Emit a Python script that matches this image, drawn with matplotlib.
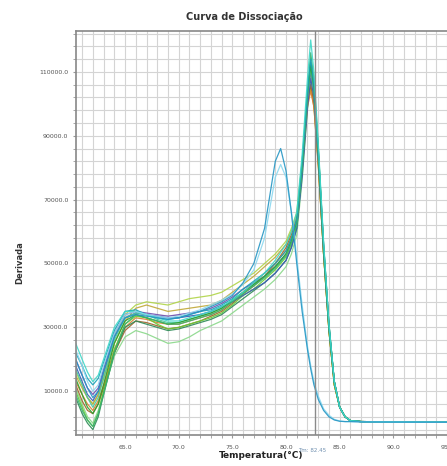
import matplotlib
matplotlib.use('Agg')
import matplotlib.pyplot as plt
from matplotlib.ticker import MultipleLocator, FormatStrFormatter
import numpy as np

# temperature points (C)
temps = [60.4, 61.0, 61.5, 62.0, 62.5, 63.0, 64.0, 65.0, 66.0, 67.0,
         68.0, 69.0, 70.0, 71.0, 72.0, 73.0, 74.0, 75.0, 76.0, 77.0,
         78.0, 79.0, 79.5, 80.0, 80.5, 81.0, 81.5, 82.0, 82.3, 82.6,
         83.0, 83.5, 84.0, 84.5, 85.0, 85.5, 86.0, 87.0, 90.0, 95.0]

# derivative per well, in thousands
well_A1 = [14, 9, 5, 3, 6, 12, 25, 32, 34, 33, 32, 31, 31.5, 32.5, 33.5, 34.5, 36, 38.5, 41, 43.5,
           46, 49, 51, 53, 57, 63, 80, 103, 112, 105, 85, 55, 30, 13, 5, 2, 0.8, 0.5, 0.4, 0.3]
well_A2 = [10, 5, 1, -1, 3, 10, 23, 31, 33.5, 33, 31, 29.5, 30, 31, 32, 33, 34.5, 37, 40, 42,
           45, 48, 50, 52, 56, 62, 79, 101, 110, 103, 83, 53, 29, 12, 5, 2, 0.8, 0.5, 0.4, 0.3]
well_A3 = [22, 18, 14, 12, 14, 19, 29, 35, 35.5, 34, 33, 32.5, 33, 34, 35, 35.5, 37, 39, 42, 44.5,
           47, 50, 52, 54, 58, 64, 82, 104, 114, 106, 86, 56, 31, 13, 5, 2, 0.8, 0.5, 0.4, 0.3]
well_A4 = [18, 13, 9, 7, 10, 16, 27, 33, 34.5, 34, 33.5, 33, 33, 33.5, 34, 35, 36.5, 38, 40, 42,
           44, 47, 49, 51, 55, 61, 77, 99, 108, 102, 83, 54, 30, 13, 5, 2, 0.8, 0.5, 0.4, 0.3]
well_A5 = [12, 7, 4, 3, 6, 11, 22, 29, 32, 31.5, 30.5, 29.5, 30, 31, 32, 33.5, 35, 37.5, 40.5, 43,
           46, 50, 52.5, 55, 59, 64, 80, 100, 106, 100, 82, 53, 29, 12, 5, 2, 0.8, 0.5, 0.4, 0.3]
well_A6 = [16, 12, 8, 6, 9, 15, 27, 34, 37, 38, 37.5, 37, 38, 39, 39.5, 40, 41, 43, 45, 47,
           50, 53, 55, 57, 61, 66, 82, 102, 108, 101, 82, 53, 29, 12, 5, 2, 0.8, 0.5, 0.4, 0.3]
well_A7 = [8, 3, 0, -2, 2, 9, 22, 30, 32, 31, 30, 29, 29.5, 30.5, 31.5, 32.5, 34, 36.5, 39, 41.5,
           44, 47, 49, 51, 55, 61, 79, 102, 113, 106, 86, 56, 31, 13, 5, 2, 0.8, 0.5, 0.4, 0.3]
well_A8 = [25, 20, 16, 13, 15, 20, 30, 35, 35, 34, 33, 32, 32, 33, 34, 35, 36.5, 38.5, 41, 44,
           47, 51, 53.5, 56, 60, 66, 84, 108, 120, 110, 88, 57, 31, 13, 5, 2, 0.8, 0.5, 0.4, 0.3]
well_A9 = [13, 9, 6, 4, 7, 12, 23, 30, 33, 32.5, 31.5, 31, 31, 32, 33, 34, 35.5, 38, 41, 44,
           47, 50, 52, 54, 58, 63, 79, 99, 104, 99, 81, 53, 29, 12, 5, 2, 0.8, 0.5, 0.4, 0.3]
well_A10 = [11, 6, 2, 0, 4, 10, 21, 27, 29, 28, 26.5, 25, 25.5, 27, 29, 30.5, 32, 34.5, 37, 39.5,
            42, 45, 47, 49, 53, 59, 76, 98, 107, 101, 83, 54, 30, 13, 5, 2, 0.8, 0.5, 0.4, 0.3]
well_A11 = [20, 15, 11, 9, 11, 17, 28, 34, 35, 34.5, 34, 33.5, 34, 34.5, 35, 36, 37.5, 39.5, 42, 44,
            46, 49, 51, 53, 57, 63, 80, 102, 110, 104, 85, 55, 30, 13, 5, 2, 0.8, 0.5, 0.4, 0.3]
well_A12 = [15, 11, 8, 6, 9, 14, 25, 32, 36, 37, 36, 35, 35.5, 36, 36.5, 37, 38.5, 41, 43.5, 46,
            49, 52, 54, 56, 60, 65, 81, 100, 105, 99, 81, 53, 29, 12, 5, 2, 0.8, 0.5, 0.4, 0.3]
well_A13 = [9, 4, 1, -1, 3, 9, 22, 31, 34, 33, 32, 31, 31, 32, 33, 34, 35.5, 38, 40.5, 43,
            45.5, 48.5, 50.5, 52.5, 56.5, 62, 80, 104, 116, 108, 87, 56, 31, 13, 5, 2, 0.8, 0.5, 0.4, 0.3]
well_A14 = [17, 12, 8, 5, 8, 14, 26, 33, 34.5, 34, 32.5, 31.5, 31.5, 32.5, 33.5, 34.5, 36, 38.5, 41, 43.5,
            46, 49, 51, 53, 57, 63, 80, 102, 111, 104, 85, 55, 30, 13, 5, 2, 0.8, 0.5, 0.4, 0.3]
# the two wells with the early peak
well_B1 = [20, 15, 11, 8, 10, 16, 27, 33, 34, 33.5, 33, 32.5, 33, 34, 35, 36.5, 38, 40, 44, 50,
           61, 82, 86, 79, 66, 50, 35, 23, 17, 12, 7.5, 4, 2, 1, 0.6, 0.5, 0.5, 0.4, 0.35, 0.3]
well_B2 = [23, 18, 13, 10, 12, 18, 28, 34, 35, 34, 33.5, 33, 33.5, 34.5, 35.5, 37, 38.5, 40.5, 43.5, 48,
           58, 77, 81, 77, 66, 52, 37, 24, 18, 13, 8.5, 4.5, 2.5, 1.2, 0.7, 0.5, 0.5, 0.4, 0.35, 0.3]

wells = [well_A10, well_A6, well_A12, well_A5, well_A9, well_A2, well_A7, well_A4,
         well_A11, well_A14, well_A1, well_A13, well_A3, well_A8, well_B2, well_B1]
colors = ['#8ad88a', '#b0d448', '#c0a838', '#a0642a', '#d88030', '#66cc33', '#2e8b57', '#3a5cb8',
          '#7050b0', '#48c9a0', '#2ca02c', '#3cb371', '#17a2b8', '#40d8c8', '#8cd8ef', '#2596c4']

tm_value = 82.7

fig = plt.figure(figsize=(4.47, 4.66), dpi=100)
ax = fig.add_axes([76 / 447., 31 / 466., 1.0 - 76 / 447., 404 / 466.])

for w, c in zip(wells, colors):
    ax.plot(temps, np.array(w) * 1000, color=c, linewidth=0.9, alpha=0.9)

ax.axvline(tm_value, color='#8a8a8a', linewidth=1.0)

ax.set_xlim(60.43, 95.0)
ax.set_ylim(-3700, 122800)

ax.xaxis.set_major_locator(MultipleLocator(5))
ax.xaxis.set_minor_locator(MultipleLocator(1))
ax.yaxis.set_major_locator(MultipleLocator(20000, offset=10000))
ax.yaxis.set_minor_locator(MultipleLocator(4000, offset=2000))
ax.xaxis.set_major_formatter(FormatStrFormatter('%.1f'))
ax.yaxis.set_major_formatter(FormatStrFormatter('%.1f'))
ax.grid(True, which='both', color='#d4d4d4', linewidth=0.8)
ax.set_axisbelow(True)
ax.tick_params(which='both', length=2, color='#999999', labelsize=4.5, labelcolor='#555555')
ax.tick_params(axis='x', pad=5)

for s in ['left', 'bottom', 'top']:
    ax.spines[s].set_color('#888888')
    ax.spines[s].set_linewidth(1.2)
ax.spines['right'].set_visible(False)

fig.text(244 / 447., 1 - 17 / 466., 'Curva de Dissociação', ha='center', va='center',
         fontsize=7, fontweight='bold', color='#333333')
fig.text(261 / 447., 1 - 456 / 466., 'Temperatura(°C)', ha='center', va='center',
         fontsize=6.5, fontweight='bold', color='#222222')
fig.text(20 / 447., 1 - 263 / 466., 'Derivada', ha='center', va='center', rotation=90,
         fontsize=6, fontweight='bold', color='#333333')
fig.text(312 / 447., 1 - 450 / 466., 'Tm: 82.45', ha='center', va='center',
         fontsize=4, color='#7090b0')

fig.savefig('out.png', dpi=100)
